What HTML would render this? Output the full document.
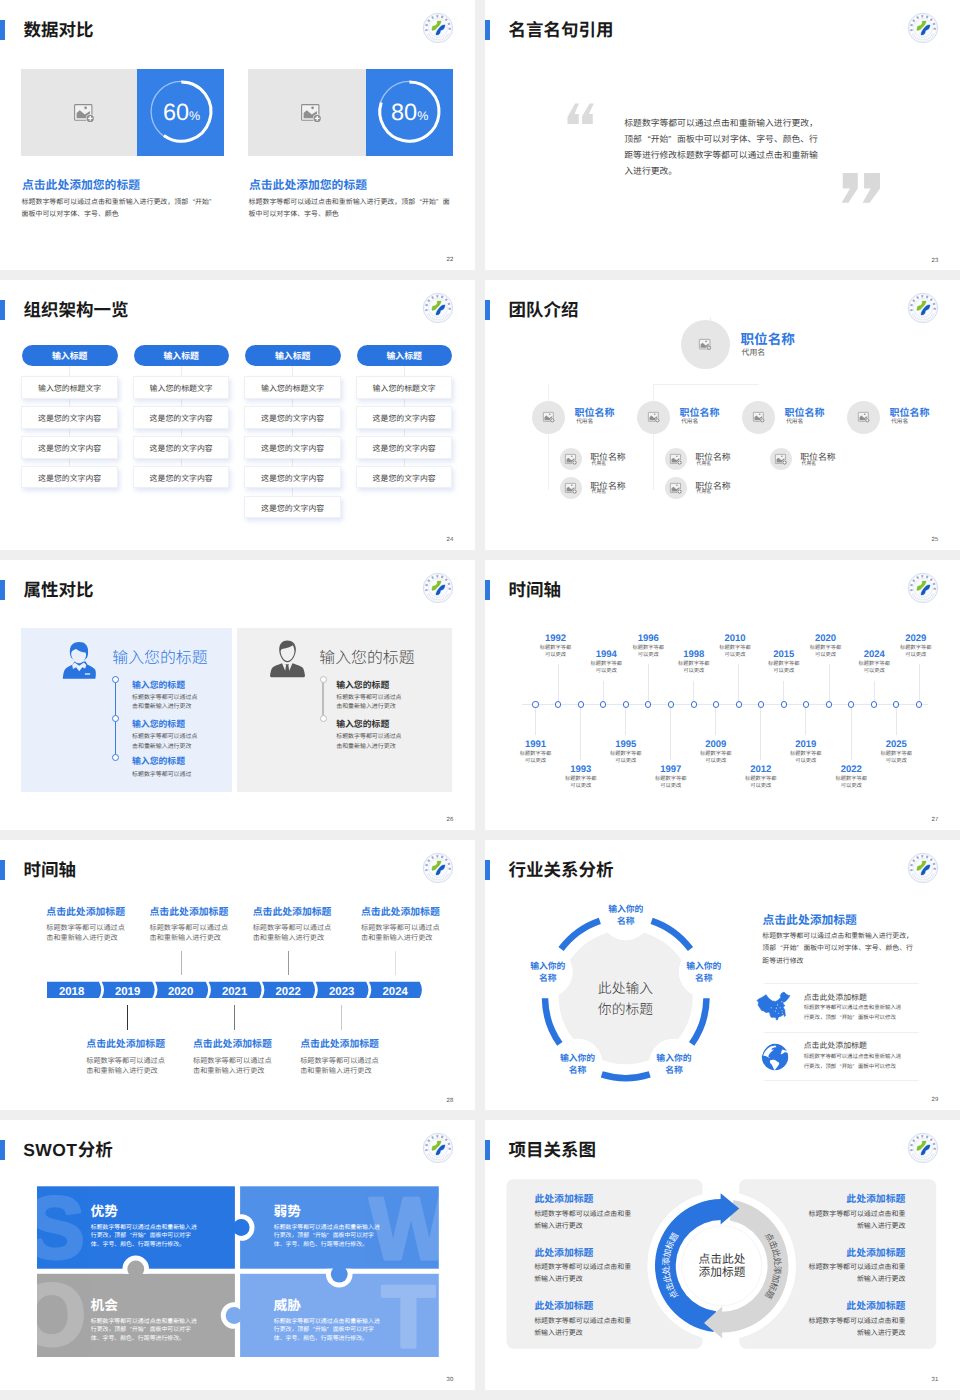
<!DOCTYPE html>
<html lang="zh-CN"><head><meta charset="utf-8"><title>slides</title>
<style>
html,body{margin:0;padding:0}
body{width:960px;height:1400px;background:#efefef;position:relative;overflow:hidden;font-family:"Liberation Sans","Noto Sans CJK SC",sans-serif;text-rendering:geometricPrecision}
.r{position:absolute;display:block}
.t{position:absolute;white-space:nowrap;margin:0;padding:0}
.q{display:inline-block;width:1em;font-style:normal}.ql{text-align:right}.qr{text-align:left}
.s{position:absolute;width:475px;height:270px;background:#fff}
svg{overflow:visible}
</style></head><body>

<div class="s" style="left:0px;top:0px"></div>
<div class="r" style="left:0px;top:20px;width:4.5px;height:20px;background:#2f78e0;"></div>
<div class="t" style="left:23.50px;top:18.20px;font-size:17.5px;line-height:24px;color:#1a1a1a;font-weight:700;">数据对比</div>
<svg class="r" style="left:422.3px;top:12px" width="32" height="32" viewBox="-16 -16 32 32">
<circle r="14.7" fill="#fff" stroke="#c3cbe8" stroke-width="0.7"/>
<circle r="13.6" fill="none" stroke="#e0e5f4" stroke-width="0.5"/>
<circle r="9.5" fill="#f8fcff" stroke="#d6dcf0" stroke-width="0.6"/>
<path d="M-11.3 3 A11.7 11.7 0 1 1 11.3 3" fill="none" stroke="#5f74b4" stroke-width="2.3" stroke-dasharray="2 2.9" opacity=".62"/>
<path d="M-10.3 5.6 A11.7 11.7 0 0 0 10.3 5.6" fill="none" stroke="#8a98c8" stroke-width="1.6" stroke-dasharray="0.9 1.1" opacity=".4"/>
<path d="M-0.7 -7 L3.2 -6.9 L2.6 -4.7 L1.3 -2.4 L-1.2 -0.2 L-2.8 1.7 L-5.7 2.6 L-6.2 1.25 L-5.4 -1.7 L-2.6 -2.6 L-1 -4.1 Z" fill="#86bf2b" stroke="#86bf2b" stroke-width=".4" stroke-linejoin="round"/>
<path d="M7 -3.1 L6.7 -0.9 L5.4 1.3 L2.6 2.6 L2 5 L0.6 6.7 L-2 7 L-1.8 5 L-0.7 2.5 L1.2 0.1 L3.1 -1.9 L5 -2.9 Z" fill="#1559c2" stroke="#1559c2" stroke-width=".4" stroke-linejoin="round"/>
</svg>
<div class="t" style="left:453.30px;top:255.50px;font-size:6px;line-height:8px;color:#555;font-weight:400;transform:translateX(-100%);text-align:right;">22</div>
<div class="s" style="left:485px;top:0px"></div>
<div class="r" style="left:485px;top:20px;width:4.5px;height:20px;background:#2f78e0;"></div>
<div class="t" style="left:508.50px;top:18.20px;font-size:17.5px;line-height:24px;color:#1a1a1a;font-weight:700;">名言名句引用</div>
<svg class="r" style="left:907.3px;top:12px" width="32" height="32" viewBox="-16 -16 32 32">
<circle r="14.7" fill="#fff" stroke="#c3cbe8" stroke-width="0.7"/>
<circle r="13.6" fill="none" stroke="#e0e5f4" stroke-width="0.5"/>
<circle r="9.5" fill="#f8fcff" stroke="#d6dcf0" stroke-width="0.6"/>
<path d="M-11.3 3 A11.7 11.7 0 1 1 11.3 3" fill="none" stroke="#5f74b4" stroke-width="2.3" stroke-dasharray="2 2.9" opacity=".62"/>
<path d="M-10.3 5.6 A11.7 11.7 0 0 0 10.3 5.6" fill="none" stroke="#8a98c8" stroke-width="1.6" stroke-dasharray="0.9 1.1" opacity=".4"/>
<path d="M-0.7 -7 L3.2 -6.9 L2.6 -4.7 L1.3 -2.4 L-1.2 -0.2 L-2.8 1.7 L-5.7 2.6 L-6.2 1.25 L-5.4 -1.7 L-2.6 -2.6 L-1 -4.1 Z" fill="#86bf2b" stroke="#86bf2b" stroke-width=".4" stroke-linejoin="round"/>
<path d="M7 -3.1 L6.7 -0.9 L5.4 1.3 L2.6 2.6 L2 5 L0.6 6.7 L-2 7 L-1.8 5 L-0.7 2.5 L1.2 0.1 L3.1 -1.9 L5 -2.9 Z" fill="#1559c2" stroke="#1559c2" stroke-width=".4" stroke-linejoin="round"/>
</svg>
<div class="t" style="left:938.30px;top:256.50px;font-size:6px;line-height:8px;color:#555;font-weight:400;transform:translateX(-100%);text-align:right;">23</div>
<div class="s" style="left:0px;top:280px"></div>
<div class="r" style="left:0px;top:300px;width:4.5px;height:20px;background:#2f78e0;"></div>
<div class="t" style="left:23.50px;top:298.20px;font-size:17.5px;line-height:24px;color:#1a1a1a;font-weight:700;">组织架构一览</div>
<svg class="r" style="left:422.3px;top:292px" width="32" height="32" viewBox="-16 -16 32 32">
<circle r="14.7" fill="#fff" stroke="#c3cbe8" stroke-width="0.7"/>
<circle r="13.6" fill="none" stroke="#e0e5f4" stroke-width="0.5"/>
<circle r="9.5" fill="#f8fcff" stroke="#d6dcf0" stroke-width="0.6"/>
<path d="M-11.3 3 A11.7 11.7 0 1 1 11.3 3" fill="none" stroke="#5f74b4" stroke-width="2.3" stroke-dasharray="2 2.9" opacity=".62"/>
<path d="M-10.3 5.6 A11.7 11.7 0 0 0 10.3 5.6" fill="none" stroke="#8a98c8" stroke-width="1.6" stroke-dasharray="0.9 1.1" opacity=".4"/>
<path d="M-0.7 -7 L3.2 -6.9 L2.6 -4.7 L1.3 -2.4 L-1.2 -0.2 L-2.8 1.7 L-5.7 2.6 L-6.2 1.25 L-5.4 -1.7 L-2.6 -2.6 L-1 -4.1 Z" fill="#86bf2b" stroke="#86bf2b" stroke-width=".4" stroke-linejoin="round"/>
<path d="M7 -3.1 L6.7 -0.9 L5.4 1.3 L2.6 2.6 L2 5 L0.6 6.7 L-2 7 L-1.8 5 L-0.7 2.5 L1.2 0.1 L3.1 -1.9 L5 -2.9 Z" fill="#1559c2" stroke="#1559c2" stroke-width=".4" stroke-linejoin="round"/>
</svg>
<div class="t" style="left:453.30px;top:535.50px;font-size:6px;line-height:8px;color:#555;font-weight:400;transform:translateX(-100%);text-align:right;">24</div>
<div class="s" style="left:485px;top:280px"></div>
<div class="r" style="left:485px;top:300px;width:4.5px;height:20px;background:#2f78e0;"></div>
<div class="t" style="left:508.50px;top:298.20px;font-size:17.5px;line-height:24px;color:#1a1a1a;font-weight:700;">团队介绍</div>
<svg class="r" style="left:907.3px;top:292px" width="32" height="32" viewBox="-16 -16 32 32">
<circle r="14.7" fill="#fff" stroke="#c3cbe8" stroke-width="0.7"/>
<circle r="13.6" fill="none" stroke="#e0e5f4" stroke-width="0.5"/>
<circle r="9.5" fill="#f8fcff" stroke="#d6dcf0" stroke-width="0.6"/>
<path d="M-11.3 3 A11.7 11.7 0 1 1 11.3 3" fill="none" stroke="#5f74b4" stroke-width="2.3" stroke-dasharray="2 2.9" opacity=".62"/>
<path d="M-10.3 5.6 A11.7 11.7 0 0 0 10.3 5.6" fill="none" stroke="#8a98c8" stroke-width="1.6" stroke-dasharray="0.9 1.1" opacity=".4"/>
<path d="M-0.7 -7 L3.2 -6.9 L2.6 -4.7 L1.3 -2.4 L-1.2 -0.2 L-2.8 1.7 L-5.7 2.6 L-6.2 1.25 L-5.4 -1.7 L-2.6 -2.6 L-1 -4.1 Z" fill="#86bf2b" stroke="#86bf2b" stroke-width=".4" stroke-linejoin="round"/>
<path d="M7 -3.1 L6.7 -0.9 L5.4 1.3 L2.6 2.6 L2 5 L0.6 6.7 L-2 7 L-1.8 5 L-0.7 2.5 L1.2 0.1 L3.1 -1.9 L5 -2.9 Z" fill="#1559c2" stroke="#1559c2" stroke-width=".4" stroke-linejoin="round"/>
</svg>
<div class="t" style="left:938.30px;top:535.50px;font-size:6px;line-height:8px;color:#555;font-weight:400;transform:translateX(-100%);text-align:right;">25</div>
<div class="s" style="left:0px;top:560px"></div>
<div class="r" style="left:0px;top:580px;width:4.5px;height:20px;background:#2f78e0;"></div>
<div class="t" style="left:23.50px;top:578.20px;font-size:17.5px;line-height:24px;color:#1a1a1a;font-weight:700;">属性对比</div>
<svg class="r" style="left:422.3px;top:572px" width="32" height="32" viewBox="-16 -16 32 32">
<circle r="14.7" fill="#fff" stroke="#c3cbe8" stroke-width="0.7"/>
<circle r="13.6" fill="none" stroke="#e0e5f4" stroke-width="0.5"/>
<circle r="9.5" fill="#f8fcff" stroke="#d6dcf0" stroke-width="0.6"/>
<path d="M-11.3 3 A11.7 11.7 0 1 1 11.3 3" fill="none" stroke="#5f74b4" stroke-width="2.3" stroke-dasharray="2 2.9" opacity=".62"/>
<path d="M-10.3 5.6 A11.7 11.7 0 0 0 10.3 5.6" fill="none" stroke="#8a98c8" stroke-width="1.6" stroke-dasharray="0.9 1.1" opacity=".4"/>
<path d="M-0.7 -7 L3.2 -6.9 L2.6 -4.7 L1.3 -2.4 L-1.2 -0.2 L-2.8 1.7 L-5.7 2.6 L-6.2 1.25 L-5.4 -1.7 L-2.6 -2.6 L-1 -4.1 Z" fill="#86bf2b" stroke="#86bf2b" stroke-width=".4" stroke-linejoin="round"/>
<path d="M7 -3.1 L6.7 -0.9 L5.4 1.3 L2.6 2.6 L2 5 L0.6 6.7 L-2 7 L-1.8 5 L-0.7 2.5 L1.2 0.1 L3.1 -1.9 L5 -2.9 Z" fill="#1559c2" stroke="#1559c2" stroke-width=".4" stroke-linejoin="round"/>
</svg>
<div class="t" style="left:453.30px;top:815.50px;font-size:6px;line-height:8px;color:#555;font-weight:400;transform:translateX(-100%);text-align:right;">26</div>
<div class="s" style="left:485px;top:560px"></div>
<div class="r" style="left:485px;top:580px;width:4.5px;height:20px;background:#2f78e0;"></div>
<div class="t" style="left:508.50px;top:578.20px;font-size:17.5px;line-height:24px;color:#1a1a1a;font-weight:700;">时间轴</div>
<svg class="r" style="left:907.3px;top:572px" width="32" height="32" viewBox="-16 -16 32 32">
<circle r="14.7" fill="#fff" stroke="#c3cbe8" stroke-width="0.7"/>
<circle r="13.6" fill="none" stroke="#e0e5f4" stroke-width="0.5"/>
<circle r="9.5" fill="#f8fcff" stroke="#d6dcf0" stroke-width="0.6"/>
<path d="M-11.3 3 A11.7 11.7 0 1 1 11.3 3" fill="none" stroke="#5f74b4" stroke-width="2.3" stroke-dasharray="2 2.9" opacity=".62"/>
<path d="M-10.3 5.6 A11.7 11.7 0 0 0 10.3 5.6" fill="none" stroke="#8a98c8" stroke-width="1.6" stroke-dasharray="0.9 1.1" opacity=".4"/>
<path d="M-0.7 -7 L3.2 -6.9 L2.6 -4.7 L1.3 -2.4 L-1.2 -0.2 L-2.8 1.7 L-5.7 2.6 L-6.2 1.25 L-5.4 -1.7 L-2.6 -2.6 L-1 -4.1 Z" fill="#86bf2b" stroke="#86bf2b" stroke-width=".4" stroke-linejoin="round"/>
<path d="M7 -3.1 L6.7 -0.9 L5.4 1.3 L2.6 2.6 L2 5 L0.6 6.7 L-2 7 L-1.8 5 L-0.7 2.5 L1.2 0.1 L3.1 -1.9 L5 -2.9 Z" fill="#1559c2" stroke="#1559c2" stroke-width=".4" stroke-linejoin="round"/>
</svg>
<div class="t" style="left:938.30px;top:815.50px;font-size:6px;line-height:8px;color:#555;font-weight:400;transform:translateX(-100%);text-align:right;">27</div>
<div class="s" style="left:0px;top:840px"></div>
<div class="r" style="left:0px;top:860px;width:4.5px;height:20px;background:#2f78e0;"></div>
<div class="t" style="left:23.50px;top:858.20px;font-size:17.5px;line-height:24px;color:#1a1a1a;font-weight:700;">时间轴</div>
<svg class="r" style="left:422.3px;top:852px" width="32" height="32" viewBox="-16 -16 32 32">
<circle r="14.7" fill="#fff" stroke="#c3cbe8" stroke-width="0.7"/>
<circle r="13.6" fill="none" stroke="#e0e5f4" stroke-width="0.5"/>
<circle r="9.5" fill="#f8fcff" stroke="#d6dcf0" stroke-width="0.6"/>
<path d="M-11.3 3 A11.7 11.7 0 1 1 11.3 3" fill="none" stroke="#5f74b4" stroke-width="2.3" stroke-dasharray="2 2.9" opacity=".62"/>
<path d="M-10.3 5.6 A11.7 11.7 0 0 0 10.3 5.6" fill="none" stroke="#8a98c8" stroke-width="1.6" stroke-dasharray="0.9 1.1" opacity=".4"/>
<path d="M-0.7 -7 L3.2 -6.9 L2.6 -4.7 L1.3 -2.4 L-1.2 -0.2 L-2.8 1.7 L-5.7 2.6 L-6.2 1.25 L-5.4 -1.7 L-2.6 -2.6 L-1 -4.1 Z" fill="#86bf2b" stroke="#86bf2b" stroke-width=".4" stroke-linejoin="round"/>
<path d="M7 -3.1 L6.7 -0.9 L5.4 1.3 L2.6 2.6 L2 5 L0.6 6.7 L-2 7 L-1.8 5 L-0.7 2.5 L1.2 0.1 L3.1 -1.9 L5 -2.9 Z" fill="#1559c2" stroke="#1559c2" stroke-width=".4" stroke-linejoin="round"/>
</svg>
<div class="t" style="left:453.30px;top:1096.50px;font-size:6px;line-height:8px;color:#555;font-weight:400;transform:translateX(-100%);text-align:right;">28</div>
<div class="s" style="left:485px;top:840px"></div>
<div class="r" style="left:485px;top:860px;width:4.5px;height:20px;background:#2f78e0;"></div>
<div class="t" style="left:508.50px;top:858.20px;font-size:17.5px;line-height:24px;color:#1a1a1a;font-weight:700;">行业关系分析</div>
<svg class="r" style="left:907.3px;top:852px" width="32" height="32" viewBox="-16 -16 32 32">
<circle r="14.7" fill="#fff" stroke="#c3cbe8" stroke-width="0.7"/>
<circle r="13.6" fill="none" stroke="#e0e5f4" stroke-width="0.5"/>
<circle r="9.5" fill="#f8fcff" stroke="#d6dcf0" stroke-width="0.6"/>
<path d="M-11.3 3 A11.7 11.7 0 1 1 11.3 3" fill="none" stroke="#5f74b4" stroke-width="2.3" stroke-dasharray="2 2.9" opacity=".62"/>
<path d="M-10.3 5.6 A11.7 11.7 0 0 0 10.3 5.6" fill="none" stroke="#8a98c8" stroke-width="1.6" stroke-dasharray="0.9 1.1" opacity=".4"/>
<path d="M-0.7 -7 L3.2 -6.9 L2.6 -4.7 L1.3 -2.4 L-1.2 -0.2 L-2.8 1.7 L-5.7 2.6 L-6.2 1.25 L-5.4 -1.7 L-2.6 -2.6 L-1 -4.1 Z" fill="#86bf2b" stroke="#86bf2b" stroke-width=".4" stroke-linejoin="round"/>
<path d="M7 -3.1 L6.7 -0.9 L5.4 1.3 L2.6 2.6 L2 5 L0.6 6.7 L-2 7 L-1.8 5 L-0.7 2.5 L1.2 0.1 L3.1 -1.9 L5 -2.9 Z" fill="#1559c2" stroke="#1559c2" stroke-width=".4" stroke-linejoin="round"/>
</svg>
<div class="t" style="left:938.30px;top:1095.50px;font-size:6px;line-height:8px;color:#555;font-weight:400;transform:translateX(-100%);text-align:right;">29</div>
<div class="s" style="left:0px;top:1120px"></div>
<div class="r" style="left:0px;top:1140px;width:4.5px;height:20px;background:#2f78e0;"></div>
<div class="t" style="left:23.30px;top:1138.00px;font-size:17.5px;line-height:24px;color:#1a1a1a;font-weight:700;letter-spacing:.35px;">SWOT</div>
<div class="t" style="left:77.80px;top:1138.20px;font-size:17.5px;line-height:24px;color:#1a1a1a;font-weight:700;">分析</div>
<svg class="r" style="left:422.3px;top:1132px" width="32" height="32" viewBox="-16 -16 32 32">
<circle r="14.7" fill="#fff" stroke="#c3cbe8" stroke-width="0.7"/>
<circle r="13.6" fill="none" stroke="#e0e5f4" stroke-width="0.5"/>
<circle r="9.5" fill="#f8fcff" stroke="#d6dcf0" stroke-width="0.6"/>
<path d="M-11.3 3 A11.7 11.7 0 1 1 11.3 3" fill="none" stroke="#5f74b4" stroke-width="2.3" stroke-dasharray="2 2.9" opacity=".62"/>
<path d="M-10.3 5.6 A11.7 11.7 0 0 0 10.3 5.6" fill="none" stroke="#8a98c8" stroke-width="1.6" stroke-dasharray="0.9 1.1" opacity=".4"/>
<path d="M-0.7 -7 L3.2 -6.9 L2.6 -4.7 L1.3 -2.4 L-1.2 -0.2 L-2.8 1.7 L-5.7 2.6 L-6.2 1.25 L-5.4 -1.7 L-2.6 -2.6 L-1 -4.1 Z" fill="#86bf2b" stroke="#86bf2b" stroke-width=".4" stroke-linejoin="round"/>
<path d="M7 -3.1 L6.7 -0.9 L5.4 1.3 L2.6 2.6 L2 5 L0.6 6.7 L-2 7 L-1.8 5 L-0.7 2.5 L1.2 0.1 L3.1 -1.9 L5 -2.9 Z" fill="#1559c2" stroke="#1559c2" stroke-width=".4" stroke-linejoin="round"/>
</svg>
<div class="t" style="left:453.30px;top:1375.50px;font-size:6px;line-height:8px;color:#555;font-weight:400;transform:translateX(-100%);text-align:right;">30</div>
<div class="s" style="left:485px;top:1120px"></div>
<div class="r" style="left:485px;top:1140px;width:4.5px;height:20px;background:#2f78e0;"></div>
<div class="t" style="left:508.50px;top:1138.20px;font-size:17.5px;line-height:24px;color:#1a1a1a;font-weight:700;">项目关系图</div>
<svg class="r" style="left:907.3px;top:1132px" width="32" height="32" viewBox="-16 -16 32 32">
<circle r="14.7" fill="#fff" stroke="#c3cbe8" stroke-width="0.7"/>
<circle r="13.6" fill="none" stroke="#e0e5f4" stroke-width="0.5"/>
<circle r="9.5" fill="#f8fcff" stroke="#d6dcf0" stroke-width="0.6"/>
<path d="M-11.3 3 A11.7 11.7 0 1 1 11.3 3" fill="none" stroke="#5f74b4" stroke-width="2.3" stroke-dasharray="2 2.9" opacity=".62"/>
<path d="M-10.3 5.6 A11.7 11.7 0 0 0 10.3 5.6" fill="none" stroke="#8a98c8" stroke-width="1.6" stroke-dasharray="0.9 1.1" opacity=".4"/>
<path d="M-0.7 -7 L3.2 -6.9 L2.6 -4.7 L1.3 -2.4 L-1.2 -0.2 L-2.8 1.7 L-5.7 2.6 L-6.2 1.25 L-5.4 -1.7 L-2.6 -2.6 L-1 -4.1 Z" fill="#86bf2b" stroke="#86bf2b" stroke-width=".4" stroke-linejoin="round"/>
<path d="M7 -3.1 L6.7 -0.9 L5.4 1.3 L2.6 2.6 L2 5 L0.6 6.7 L-2 7 L-1.8 5 L-0.7 2.5 L1.2 0.1 L3.1 -1.9 L5 -2.9 Z" fill="#1559c2" stroke="#1559c2" stroke-width=".4" stroke-linejoin="round"/>
</svg>
<div class="t" style="left:938.30px;top:1375.50px;font-size:6px;line-height:8px;color:#555;font-weight:400;transform:translateX(-100%);text-align:right;">31</div>
<div class="r" style="left:21px;top:69px;width:116px;height:87px;background:#e7e6e6;"></div>
<div class="r" style="left:137px;top:69px;width:87px;height:87px;background:#3580e6;"></div>
<svg class="r" style="left:73.5px;top:103.9px" width="22" height="20.0" viewBox="0 0 22 20">
<rect x="0.6" y="0.6" width="17.3" height="15.6" rx="0.8" fill="#f2f2f2" stroke="#8f8f8f" stroke-width="1.1"/>
<path d="M2.6 14.2 L2.6 9 L5.8 6.2 L10.8 10.6 L15.6 7.2 L15.9 7.2 L15.9 14.2 Z" fill="#8f8f8f"/>
<circle cx="11.6" cy="3.8" r="1.4" fill="#8f8f8f"/>
<circle cx="16.2" cy="14.4" r="4.3" fill="#e9e9e9"/>
<circle cx="16.2" cy="14.4" r="3.6" fill="#8f8f8f"/>
<path d="M16.2 12.1 V16.7 M13.9 14.4 H18.5" stroke="#fff" stroke-width="1.3"/>
</svg>
<svg class="r" style="left:0;top:0" width="960" height="1400"><circle cx="181.3" cy="111.6" r="30.200000000000003" fill="none" stroke="#9cc1f5" stroke-width="1.3"/><path d="M181.3 82.0 A29.6 29.6 0 1 1 163.90 135.55" fill="none" stroke="#fff" stroke-width="3"/></svg>
<div class="t" style="left:181.60px;top:97.80px;font-size:23.5px;line-height:28px;color:#fff;font-weight:400;transform:translateX(-50%);text-align:center;">60<span style="font-size:12.5px">%</span></div>
<div class="t" style="left:22.00px;top:177.80px;font-size:11.8px;line-height:14px;color:#2f78e0;font-weight:700;">点击此处添加您的标题</div>
<div class="t" style="left:21.60px;top:197.00px;font-size:6.95px;line-height:12px;color:#444;font-weight:400;">标题数字等都可以通过点击和重新输入进行更改，顶部<i class="q ql">“</i>开始<i class="q qr">”</i><br>面板中可以对字体、字号、颜色</div>
<div class="r" style="left:248px;top:69px;width:118px;height:87px;background:#e7e6e6;"></div>
<div class="r" style="left:366px;top:69px;width:87px;height:87px;background:#3580e6;"></div>
<svg class="r" style="left:300.5px;top:103.9px" width="22" height="20.0" viewBox="0 0 22 20">
<rect x="0.6" y="0.6" width="17.3" height="15.6" rx="0.8" fill="#f2f2f2" stroke="#8f8f8f" stroke-width="1.1"/>
<path d="M2.6 14.2 L2.6 9 L5.8 6.2 L10.8 10.6 L15.6 7.2 L15.9 7.2 L15.9 14.2 Z" fill="#8f8f8f"/>
<circle cx="11.6" cy="3.8" r="1.4" fill="#8f8f8f"/>
<circle cx="16.2" cy="14.4" r="4.3" fill="#e9e9e9"/>
<circle cx="16.2" cy="14.4" r="3.6" fill="#8f8f8f"/>
<path d="M16.2 12.1 V16.7 M13.9 14.4 H18.5" stroke="#fff" stroke-width="1.3"/>
</svg>
<svg class="r" style="left:0;top:0" width="960" height="1400"><circle cx="409.4" cy="111.6" r="30.200000000000003" fill="none" stroke="#9cc1f5" stroke-width="1.3"/><path d="M409.4 82.0 A29.6 29.6 0 1 1 381.25 102.45" fill="none" stroke="#fff" stroke-width="3"/></svg>
<div class="t" style="left:409.70px;top:97.80px;font-size:23.5px;line-height:28px;color:#fff;font-weight:400;transform:translateX(-50%);text-align:center;">80<span style="font-size:12.5px">%</span></div>
<div class="t" style="left:249.00px;top:177.80px;font-size:11.8px;line-height:14px;color:#2f78e0;font-weight:700;">点击此处添加您的标题</div>
<div class="t" style="left:248.60px;top:197.00px;font-size:6.95px;line-height:12px;color:#444;font-weight:400;">标题数字等都可以通过点击和重新输入进行更改，顶部<i class="q ql">“</i>开始<i class="q qr">”</i>面<br>板中可以对字体、字号、颜色</div>
<svg class="r" style="left:0;top:0" width="960" height="1400"><polygon points="567.5,123.9 567.5,116.9 575,103.6 579,103.6 574.5,114 578.7,114 578.7,123.9" fill="#dbdbdb"/><polygon points="582.1,123.9 582.1,116.3 589.6,103.6 593.8,103.6 588.9,114 592.8,114 592.8,123.9" fill="#dbdbdb"/><polygon points="842.8,173.1 857.8,173.1 857.8,188.4 848.4,202.8 841.6,202.8 850,188.4 842.8,188.4" fill="#d9d9d9"/><polygon points="864.1,173.1 880,173.1 880,188.4 869.7,202.8 862.5,202.8 870.6,188.4 864.1,188.4" fill="#d9d9d9"/></svg>
<div class="t" style="left:624.30px;top:114.70px;font-size:8.8px;line-height:16.2px;color:#444;font-weight:400;">标题数字等都可以通过点击和重新输入进行更改，<br>顶部<i class="q ql">“</i>开始<i class="q qr">”</i>面板中可以对字体、字号、颜色、行<br>距等进行修改标题数字等都可以通过点击和重新输<br>入进行更改。</div>
<div class="r" style="left:69.4px;top:366px;width:0.7px;height:100.05000000000001px;background:#ececf0;"></div>
<div class="r" style="left:22.00px;top:345px;width:95.5px;height:21px;border-radius:10.5px;background:#2a74e0"></div>
<div class="t" style="left:69.70px;top:350.20px;font-size:8.9px;line-height:12px;color:#fff;font-weight:700;transform:translateX(-50%);text-align:center;">输入标题</div>
<div class="r" style="left:21.20px;top:376.30px;width:96.5px;height:22.5px;background:#fff;border:0.5px solid #f0f0f4;box-sizing:border-box;box-shadow:2px 3px 4.5px rgba(80,110,210,.17)"></div>
<div class="t" style="left:69.70px;top:383.10px;font-size:7.9px;line-height:11px;color:#444;font-weight:400;transform:translateX(-50%);text-align:center;">输入您的标题文字</div>
<div class="r" style="left:21.20px;top:406.15px;width:96.5px;height:22.5px;background:#fff;border:0.5px solid #f0f0f4;box-sizing:border-box;box-shadow:2px 3px 4.5px rgba(80,110,210,.17)"></div>
<div class="t" style="left:69.70px;top:412.95px;font-size:7.9px;line-height:11px;color:#444;font-weight:400;transform:translateX(-50%);text-align:center;">这是您的文字内容</div>
<div class="r" style="left:21.20px;top:436.00px;width:96.5px;height:22.5px;background:#fff;border:0.5px solid #f0f0f4;box-sizing:border-box;box-shadow:2px 3px 4.5px rgba(80,110,210,.17)"></div>
<div class="t" style="left:69.70px;top:442.80px;font-size:7.9px;line-height:11px;color:#444;font-weight:400;transform:translateX(-50%);text-align:center;">这是您的文字内容</div>
<div class="r" style="left:21.20px;top:465.85px;width:96.5px;height:22.5px;background:#fff;border:0.5px solid #f0f0f4;box-sizing:border-box;box-shadow:2px 3px 4.5px rgba(80,110,210,.17)"></div>
<div class="t" style="left:69.70px;top:472.65px;font-size:7.9px;line-height:11px;color:#444;font-weight:400;transform:translateX(-50%);text-align:center;">这是您的文字内容</div>
<div class="r" style="left:180.9px;top:366px;width:0.7px;height:100.05000000000001px;background:#ececf0;"></div>
<div class="r" style="left:133.50px;top:345px;width:95.5px;height:21px;border-radius:10.5px;background:#2a74e0"></div>
<div class="t" style="left:181.20px;top:350.20px;font-size:8.9px;line-height:12px;color:#fff;font-weight:700;transform:translateX(-50%);text-align:center;">输入标题</div>
<div class="r" style="left:132.70px;top:376.30px;width:96.5px;height:22.5px;background:#fff;border:0.5px solid #f0f0f4;box-sizing:border-box;box-shadow:2px 3px 4.5px rgba(80,110,210,.17)"></div>
<div class="t" style="left:181.20px;top:383.10px;font-size:7.9px;line-height:11px;color:#444;font-weight:400;transform:translateX(-50%);text-align:center;">输入您的标题文字</div>
<div class="r" style="left:132.70px;top:406.15px;width:96.5px;height:22.5px;background:#fff;border:0.5px solid #f0f0f4;box-sizing:border-box;box-shadow:2px 3px 4.5px rgba(80,110,210,.17)"></div>
<div class="t" style="left:181.20px;top:412.95px;font-size:7.9px;line-height:11px;color:#444;font-weight:400;transform:translateX(-50%);text-align:center;">这是您的文字内容</div>
<div class="r" style="left:132.70px;top:436.00px;width:96.5px;height:22.5px;background:#fff;border:0.5px solid #f0f0f4;box-sizing:border-box;box-shadow:2px 3px 4.5px rgba(80,110,210,.17)"></div>
<div class="t" style="left:181.20px;top:442.80px;font-size:7.9px;line-height:11px;color:#444;font-weight:400;transform:translateX(-50%);text-align:center;">这是您的文字内容</div>
<div class="r" style="left:132.70px;top:465.85px;width:96.5px;height:22.5px;background:#fff;border:0.5px solid #f0f0f4;box-sizing:border-box;box-shadow:2px 3px 4.5px rgba(80,110,210,.17)"></div>
<div class="t" style="left:181.20px;top:472.65px;font-size:7.9px;line-height:11px;color:#444;font-weight:400;transform:translateX(-50%);text-align:center;">这是您的文字内容</div>
<div class="r" style="left:292.4px;top:366px;width:0.7px;height:129.9px;background:#ececf0;"></div>
<div class="r" style="left:245.00px;top:345px;width:95.5px;height:21px;border-radius:10.5px;background:#2a74e0"></div>
<div class="t" style="left:292.70px;top:350.20px;font-size:8.9px;line-height:12px;color:#fff;font-weight:700;transform:translateX(-50%);text-align:center;">输入标题</div>
<div class="r" style="left:244.20px;top:376.30px;width:96.5px;height:22.5px;background:#fff;border:0.5px solid #f0f0f4;box-sizing:border-box;box-shadow:2px 3px 4.5px rgba(80,110,210,.17)"></div>
<div class="t" style="left:292.70px;top:383.10px;font-size:7.9px;line-height:11px;color:#444;font-weight:400;transform:translateX(-50%);text-align:center;">输入您的标题文字</div>
<div class="r" style="left:244.20px;top:406.15px;width:96.5px;height:22.5px;background:#fff;border:0.5px solid #f0f0f4;box-sizing:border-box;box-shadow:2px 3px 4.5px rgba(80,110,210,.17)"></div>
<div class="t" style="left:292.70px;top:412.95px;font-size:7.9px;line-height:11px;color:#444;font-weight:400;transform:translateX(-50%);text-align:center;">这是您的文字内容</div>
<div class="r" style="left:244.20px;top:436.00px;width:96.5px;height:22.5px;background:#fff;border:0.5px solid #f0f0f4;box-sizing:border-box;box-shadow:2px 3px 4.5px rgba(80,110,210,.17)"></div>
<div class="t" style="left:292.70px;top:442.80px;font-size:7.9px;line-height:11px;color:#444;font-weight:400;transform:translateX(-50%);text-align:center;">这是您的文字内容</div>
<div class="r" style="left:244.20px;top:465.85px;width:96.5px;height:22.5px;background:#fff;border:0.5px solid #f0f0f4;box-sizing:border-box;box-shadow:2px 3px 4.5px rgba(80,110,210,.17)"></div>
<div class="t" style="left:292.70px;top:472.65px;font-size:7.9px;line-height:11px;color:#444;font-weight:400;transform:translateX(-50%);text-align:center;">这是您的文字内容</div>
<div class="r" style="left:244.20px;top:495.70px;width:96.5px;height:22.5px;background:#fff;border:0.5px solid #f0f0f4;box-sizing:border-box;box-shadow:2px 3px 4.5px rgba(80,110,210,.17)"></div>
<div class="t" style="left:292.70px;top:502.50px;font-size:7.9px;line-height:11px;color:#444;font-weight:400;transform:translateX(-50%);text-align:center;">这是您的文字内容</div>
<div class="r" style="left:403.9px;top:366px;width:0.7px;height:100.05000000000001px;background:#ececf0;"></div>
<div class="r" style="left:356.50px;top:345px;width:95.5px;height:21px;border-radius:10.5px;background:#2a74e0"></div>
<div class="t" style="left:404.20px;top:350.20px;font-size:8.9px;line-height:12px;color:#fff;font-weight:700;transform:translateX(-50%);text-align:center;">输入标题</div>
<div class="r" style="left:355.70px;top:376.30px;width:96.5px;height:22.5px;background:#fff;border:0.5px solid #f0f0f4;box-sizing:border-box;box-shadow:2px 3px 4.5px rgba(80,110,210,.17)"></div>
<div class="t" style="left:404.20px;top:383.10px;font-size:7.9px;line-height:11px;color:#444;font-weight:400;transform:translateX(-50%);text-align:center;">输入您的标题文字</div>
<div class="r" style="left:355.70px;top:406.15px;width:96.5px;height:22.5px;background:#fff;border:0.5px solid #f0f0f4;box-sizing:border-box;box-shadow:2px 3px 4.5px rgba(80,110,210,.17)"></div>
<div class="t" style="left:404.20px;top:412.95px;font-size:7.9px;line-height:11px;color:#444;font-weight:400;transform:translateX(-50%);text-align:center;">这是您的文字内容</div>
<div class="r" style="left:355.70px;top:436.00px;width:96.5px;height:22.5px;background:#fff;border:0.5px solid #f0f0f4;box-sizing:border-box;box-shadow:2px 3px 4.5px rgba(80,110,210,.17)"></div>
<div class="t" style="left:404.20px;top:442.80px;font-size:7.9px;line-height:11px;color:#444;font-weight:400;transform:translateX(-50%);text-align:center;">这是您的文字内容</div>
<div class="r" style="left:355.70px;top:465.85px;width:96.5px;height:22.5px;background:#fff;border:0.5px solid #f0f0f4;box-sizing:border-box;box-shadow:2px 3px 4.5px rgba(80,110,210,.17)"></div>
<div class="t" style="left:404.20px;top:472.65px;font-size:7.9px;line-height:11px;color:#444;font-weight:400;transform:translateX(-50%);text-align:center;">这是您的文字内容</div>
<div class="r" style="left:710px;top:317px;width:0.7px;height:4px;background:#f0f0f0;"></div>
<div class="r" style="left:548.4px;top:384px;width:0.7px;height:106px;background:#f0f0f0;"></div>
<div class="r" style="left:653.2px;top:384px;width:106px;height:0.7px;background:#f0f0f0;"></div>
<div class="r" style="left:653.2px;top:384px;width:0.7px;height:106px;background:#f0f0f0;"></div>
<div class="r" style="left:681.20px;top:320.00px;width:48.8px;height:48.8px;border-radius:50%;background:#e6e6e6"></div>
<svg class="r" style="left:699.49px;top:339.45px" width="13.5" height="12.27" viewBox="0 0 22 20">
<rect x="0.6" y="0.6" width="17.3" height="15.6" rx="0.8" fill="#f2f2f2" stroke="#8f8f8f" stroke-width="1.1"/>
<path d="M2.6 14.2 L2.6 9 L5.8 6.2 L10.8 10.6 L15.6 7.2 L15.9 7.2 L15.9 14.2 Z" fill="#8f8f8f"/>
<circle cx="11.6" cy="3.8" r="1.4" fill="#8f8f8f"/>
<circle cx="16.2" cy="14.4" r="4.3" fill="#e9e9e9"/>
<circle cx="16.2" cy="14.4" r="3.6" fill="#8f8f8f"/>
<path d="M16.2 12.1 V16.7 M13.9 14.4 H18.5" stroke="#fff" stroke-width="1.3"/>
</svg>
<div class="t" style="left:740.50px;top:331.30px;font-size:13.6px;line-height:18px;color:#2f78e0;font-weight:700;">职位名称</div>
<div class="t" style="left:741.50px;top:348.20px;font-size:7.9px;line-height:10px;color:#555;font-weight:400;">代用名</div>
<div class="r" style="left:532.00px;top:400.50px;width:33.0px;height:33.0px;border-radius:50%;background:#e6e6e6"></div>
<svg class="r" style="left:542.83px;top:412.45px" width="12.7" height="11.55" viewBox="0 0 22 20">
<rect x="0.6" y="0.6" width="17.3" height="15.6" rx="0.8" fill="#f2f2f2" stroke="#8f8f8f" stroke-width="1.1"/>
<path d="M2.6 14.2 L2.6 9 L5.8 6.2 L10.8 10.6 L15.6 7.2 L15.9 7.2 L15.9 14.2 Z" fill="#8f8f8f"/>
<circle cx="11.6" cy="3.8" r="1.4" fill="#8f8f8f"/>
<circle cx="16.2" cy="14.4" r="4.3" fill="#e9e9e9"/>
<circle cx="16.2" cy="14.4" r="3.6" fill="#8f8f8f"/>
<path d="M16.2 12.1 V16.7 M13.9 14.4 H18.5" stroke="#fff" stroke-width="1.3"/>
</svg>
<div class="t" style="left:574.50px;top:406.50px;font-size:10px;line-height:13px;color:#2f78e0;font-weight:700;">职位名称</div>
<div class="t" style="left:576.20px;top:419.10px;font-size:5.7px;line-height:7px;color:#555;font-weight:400;">代用名</div>
<div class="r" style="left:637.00px;top:400.50px;width:33.0px;height:33.0px;border-radius:50%;background:#e6e6e6"></div>
<svg class="r" style="left:647.83px;top:412.45px" width="12.7" height="11.55" viewBox="0 0 22 20">
<rect x="0.6" y="0.6" width="17.3" height="15.6" rx="0.8" fill="#f2f2f2" stroke="#8f8f8f" stroke-width="1.1"/>
<path d="M2.6 14.2 L2.6 9 L5.8 6.2 L10.8 10.6 L15.6 7.2 L15.9 7.2 L15.9 14.2 Z" fill="#8f8f8f"/>
<circle cx="11.6" cy="3.8" r="1.4" fill="#8f8f8f"/>
<circle cx="16.2" cy="14.4" r="4.3" fill="#e9e9e9"/>
<circle cx="16.2" cy="14.4" r="3.6" fill="#8f8f8f"/>
<path d="M16.2 12.1 V16.7 M13.9 14.4 H18.5" stroke="#fff" stroke-width="1.3"/>
</svg>
<div class="t" style="left:679.50px;top:406.50px;font-size:10px;line-height:13px;color:#2f78e0;font-weight:700;">职位名称</div>
<div class="t" style="left:681.20px;top:419.10px;font-size:5.7px;line-height:7px;color:#555;font-weight:400;">代用名</div>
<div class="r" style="left:742.00px;top:400.50px;width:33.0px;height:33.0px;border-radius:50%;background:#e6e6e6"></div>
<svg class="r" style="left:752.83px;top:412.45px" width="12.7" height="11.55" viewBox="0 0 22 20">
<rect x="0.6" y="0.6" width="17.3" height="15.6" rx="0.8" fill="#f2f2f2" stroke="#8f8f8f" stroke-width="1.1"/>
<path d="M2.6 14.2 L2.6 9 L5.8 6.2 L10.8 10.6 L15.6 7.2 L15.9 7.2 L15.9 14.2 Z" fill="#8f8f8f"/>
<circle cx="11.6" cy="3.8" r="1.4" fill="#8f8f8f"/>
<circle cx="16.2" cy="14.4" r="4.3" fill="#e9e9e9"/>
<circle cx="16.2" cy="14.4" r="3.6" fill="#8f8f8f"/>
<path d="M16.2 12.1 V16.7 M13.9 14.4 H18.5" stroke="#fff" stroke-width="1.3"/>
</svg>
<div class="t" style="left:784.50px;top:406.50px;font-size:10px;line-height:13px;color:#2f78e0;font-weight:700;">职位名称</div>
<div class="t" style="left:786.20px;top:419.10px;font-size:5.7px;line-height:7px;color:#555;font-weight:400;">代用名</div>
<div class="r" style="left:847.00px;top:400.50px;width:33.0px;height:33.0px;border-radius:50%;background:#e6e6e6"></div>
<svg class="r" style="left:857.83px;top:412.45px" width="12.7" height="11.55" viewBox="0 0 22 20">
<rect x="0.6" y="0.6" width="17.3" height="15.6" rx="0.8" fill="#f2f2f2" stroke="#8f8f8f" stroke-width="1.1"/>
<path d="M2.6 14.2 L2.6 9 L5.8 6.2 L10.8 10.6 L15.6 7.2 L15.9 7.2 L15.9 14.2 Z" fill="#8f8f8f"/>
<circle cx="11.6" cy="3.8" r="1.4" fill="#8f8f8f"/>
<circle cx="16.2" cy="14.4" r="4.3" fill="#e9e9e9"/>
<circle cx="16.2" cy="14.4" r="3.6" fill="#8f8f8f"/>
<path d="M16.2 12.1 V16.7 M13.9 14.4 H18.5" stroke="#fff" stroke-width="1.3"/>
</svg>
<div class="t" style="left:889.50px;top:406.50px;font-size:10px;line-height:13px;color:#2f78e0;font-weight:700;">职位名称</div>
<div class="t" style="left:891.20px;top:419.10px;font-size:5.7px;line-height:7px;color:#555;font-weight:400;">代用名</div>
<div class="r" style="left:560.00px;top:447.75px;width:22px;height:22px;border-radius:50%;background:#e6e6e6"></div>
<svg class="r" style="left:565.3px;top:454.09px" width="13" height="11.82" viewBox="0 0 22 20">
<rect x="0.6" y="0.6" width="17.3" height="15.6" rx="0.8" fill="#f2f2f2" stroke="#8f8f8f" stroke-width="1.1"/>
<path d="M2.6 14.2 L2.6 9 L5.8 6.2 L10.8 10.6 L15.6 7.2 L15.9 7.2 L15.9 14.2 Z" fill="#8f8f8f"/>
<circle cx="11.6" cy="3.8" r="1.4" fill="#8f8f8f"/>
<circle cx="16.2" cy="14.4" r="4.3" fill="#e9e9e9"/>
<circle cx="16.2" cy="14.4" r="3.6" fill="#8f8f8f"/>
<path d="M16.2 12.1 V16.7 M13.9 14.4 H18.5" stroke="#fff" stroke-width="1.3"/>
</svg>
<div class="t" style="left:590.20px;top:450.85px;font-size:8.9px;line-height:12px;color:#444;font-weight:400;">职位名称</div>
<div class="t" style="left:591.60px;top:461.55px;font-size:4.8px;line-height:6px;color:#555;font-weight:400;">代用名</div>
<div class="r" style="left:560.00px;top:476.50px;width:22px;height:22px;border-radius:50%;background:#e6e6e6"></div>
<svg class="r" style="left:565.3px;top:482.84px" width="13" height="11.82" viewBox="0 0 22 20">
<rect x="0.6" y="0.6" width="17.3" height="15.6" rx="0.8" fill="#f2f2f2" stroke="#8f8f8f" stroke-width="1.1"/>
<path d="M2.6 14.2 L2.6 9 L5.8 6.2 L10.8 10.6 L15.6 7.2 L15.9 7.2 L15.9 14.2 Z" fill="#8f8f8f"/>
<circle cx="11.6" cy="3.8" r="1.4" fill="#8f8f8f"/>
<circle cx="16.2" cy="14.4" r="4.3" fill="#e9e9e9"/>
<circle cx="16.2" cy="14.4" r="3.6" fill="#8f8f8f"/>
<path d="M16.2 12.1 V16.7 M13.9 14.4 H18.5" stroke="#fff" stroke-width="1.3"/>
</svg>
<div class="t" style="left:590.20px;top:479.60px;font-size:8.9px;line-height:12px;color:#444;font-weight:400;">职位名称</div>
<div class="t" style="left:591.60px;top:490.30px;font-size:4.8px;line-height:6px;color:#555;font-weight:400;">代用名</div>
<div class="r" style="left:665.00px;top:447.75px;width:22px;height:22px;border-radius:50%;background:#e6e6e6"></div>
<svg class="r" style="left:670.3px;top:454.09px" width="13" height="11.82" viewBox="0 0 22 20">
<rect x="0.6" y="0.6" width="17.3" height="15.6" rx="0.8" fill="#f2f2f2" stroke="#8f8f8f" stroke-width="1.1"/>
<path d="M2.6 14.2 L2.6 9 L5.8 6.2 L10.8 10.6 L15.6 7.2 L15.9 7.2 L15.9 14.2 Z" fill="#8f8f8f"/>
<circle cx="11.6" cy="3.8" r="1.4" fill="#8f8f8f"/>
<circle cx="16.2" cy="14.4" r="4.3" fill="#e9e9e9"/>
<circle cx="16.2" cy="14.4" r="3.6" fill="#8f8f8f"/>
<path d="M16.2 12.1 V16.7 M13.9 14.4 H18.5" stroke="#fff" stroke-width="1.3"/>
</svg>
<div class="t" style="left:695.20px;top:450.85px;font-size:8.9px;line-height:12px;color:#444;font-weight:400;">职位名称</div>
<div class="t" style="left:696.60px;top:461.55px;font-size:4.8px;line-height:6px;color:#555;font-weight:400;">代用名</div>
<div class="r" style="left:665.00px;top:476.50px;width:22px;height:22px;border-radius:50%;background:#e6e6e6"></div>
<svg class="r" style="left:670.3px;top:482.84px" width="13" height="11.82" viewBox="0 0 22 20">
<rect x="0.6" y="0.6" width="17.3" height="15.6" rx="0.8" fill="#f2f2f2" stroke="#8f8f8f" stroke-width="1.1"/>
<path d="M2.6 14.2 L2.6 9 L5.8 6.2 L10.8 10.6 L15.6 7.2 L15.9 7.2 L15.9 14.2 Z" fill="#8f8f8f"/>
<circle cx="11.6" cy="3.8" r="1.4" fill="#8f8f8f"/>
<circle cx="16.2" cy="14.4" r="4.3" fill="#e9e9e9"/>
<circle cx="16.2" cy="14.4" r="3.6" fill="#8f8f8f"/>
<path d="M16.2 12.1 V16.7 M13.9 14.4 H18.5" stroke="#fff" stroke-width="1.3"/>
</svg>
<div class="t" style="left:695.20px;top:479.60px;font-size:8.9px;line-height:12px;color:#444;font-weight:400;">职位名称</div>
<div class="t" style="left:696.60px;top:490.30px;font-size:4.8px;line-height:6px;color:#555;font-weight:400;">代用名</div>
<div class="r" style="left:770.00px;top:447.75px;width:22px;height:22px;border-radius:50%;background:#e6e6e6"></div>
<svg class="r" style="left:775.3px;top:454.09px" width="13" height="11.82" viewBox="0 0 22 20">
<rect x="0.6" y="0.6" width="17.3" height="15.6" rx="0.8" fill="#f2f2f2" stroke="#8f8f8f" stroke-width="1.1"/>
<path d="M2.6 14.2 L2.6 9 L5.8 6.2 L10.8 10.6 L15.6 7.2 L15.9 7.2 L15.9 14.2 Z" fill="#8f8f8f"/>
<circle cx="11.6" cy="3.8" r="1.4" fill="#8f8f8f"/>
<circle cx="16.2" cy="14.4" r="4.3" fill="#e9e9e9"/>
<circle cx="16.2" cy="14.4" r="3.6" fill="#8f8f8f"/>
<path d="M16.2 12.1 V16.7 M13.9 14.4 H18.5" stroke="#fff" stroke-width="1.3"/>
</svg>
<div class="t" style="left:800.20px;top:450.85px;font-size:8.9px;line-height:12px;color:#444;font-weight:400;">职位名称</div>
<div class="t" style="left:801.60px;top:461.55px;font-size:4.8px;line-height:6px;color:#555;font-weight:400;">代用名</div>
<div class="r" style="left:21.3px;top:628.3px;width:211.2px;height:164.2px;background:#e9f0fc;"></div>
<div class="r" style="left:236.6px;top:628.3px;width:215.6px;height:164.2px;background:#f0f0f0;"></div>
<svg class="r" style="left:55px;top:635px" width="50" height="50" viewBox="0 0 96 96">
<path d="M15 84 C15 84 15.5 72 19 66 C21 62.5 27 59.5 34 56.5 L37 51 L59 51 L62 56.5 C69 59.5 74.5 62.5 77 66 C80 72 77.5 84 77.5 84 Z" fill="#2a74e0"/>
<path d="M33 57.5 L37.5 53 L46.5 59 L55.5 53 L60 57.5 L58 64.5 L52.5 62 L46.5 69.5 L40.5 62 L34.5 65.5 Z" fill="#e9f0fc"/>
<rect x="57.5" y="73" width="10" height="4" rx="1" fill="#a9c8f5"/>
<path d="M28.5 31 C28.5 19 36 13.5 46.5 13.5 C57 13.5 63.5 20 63.5 31 C63.5 35 63.5 39 61.5 43 L56 49 L37 49 L31 43 C28.8 39 28.5 35 28.5 31 Z" fill="#2a74e0"/>
<path d="M31 36 C31 31 35 28 40.5 26.8 C45 30.5 52 33.5 58.5 33.5 C60.5 37 60 42 57.5 46 C55 50.5 51 54.3 46 54.3 C41 54.3 37.5 51 35 47.5 C32.5 44 31 40 31 36 Z" fill="#e9f0fc"/>
</svg>
<svg class="r" style="left:262px;top:635px" width="50" height="50" viewBox="0 0 96 96">
<path d="M15.5 78 C16 74 17 68 19 64 C22 59.5 30 57 38.5 54 L44.5 68.5 L46.2 58 L44.8 56 L52 56 L50.6 58 L52.3 68.5 L58.5 54 C67 57 76 59.5 79 64 C81 68 82 74 82.5 78 C82.5 80 81 81 79 81 L19 81 C17 81 15.5 80 15.5 78 Z" fill="#595959"/>
<path d="M33 28 C33 16 40 10.5 48.5 10.5 C58 10.5 65 16.5 65 28 C65 38 58.5 52.5 48.5 52.5 C39 52.5 33 38 33 28 Z" fill="#595959"/>
<path d="M35.8 31 C36 28.5 38 27.3 40.5 26.5 C47 24.8 54.5 23 59.5 19.5 C61 23 62.3 27 62.3 31 C62.3 38.5 56.5 49.8 48.8 49.8 C41.5 49.8 35.8 38.5 35.8 31 Z" fill="#f0f0f0"/>
</svg>
<div class="t" style="left:112.30px;top:647.50px;font-size:15.9px;line-height:21px;color:#2f78e0;font-weight:300;">输入您的标题</div>
<div class="t" style="left:319.30px;top:647.50px;font-size:15.9px;line-height:21px;color:#4d4d4d;font-weight:300;">输入您的标题</div>
<div class="r" style="left:114.95px;top:679.3px;width:1.1px;height:78.0px;background:#3b7de0;"></div>
<div class="r" style="left:112.0px;top:675.8px;width:7px;height:7px;border-radius:50%;box-sizing:border-box;border:0.9px solid #3b7de0;background:#fff"></div>
<div class="r" style="left:112.0px;top:714.8px;width:7px;height:7px;border-radius:50%;box-sizing:border-box;border:0.9px solid #3b7de0;background:#fff"></div>
<div class="r" style="left:112.0px;top:753.8px;width:7px;height:7px;border-radius:50%;box-sizing:border-box;border:0.9px solid #3b7de0;background:#fff"></div>
<div class="r" style="left:322.45px;top:679.3px;width:1.1px;height:39.0px;background:#bdbdbd;"></div>
<div class="r" style="left:319.5px;top:675.8px;width:7px;height:7px;border-radius:50%;box-sizing:border-box;border:0.9px solid #bdbdbd;background:#fff"></div>
<div class="r" style="left:319.5px;top:714.8px;width:7px;height:7px;border-radius:50%;box-sizing:border-box;border:0.9px solid #bdbdbd;background:#fff"></div>
<div class="t" style="left:132.00px;top:678.50px;font-size:8.85px;line-height:12px;color:#2f78e0;font-weight:700;">输入您的标题</div>
<div class="t" style="left:132.00px;top:693.95px;font-size:5.95px;line-height:9.5px;color:#555;font-weight:400;">标题数字等都可以通过点<br>击和重新输入进行更改</div>
<div class="t" style="left:132.00px;top:718.00px;font-size:8.85px;line-height:12px;color:#2f78e0;font-weight:700;">输入您的标题</div>
<div class="t" style="left:132.00px;top:733.45px;font-size:5.95px;line-height:9.5px;color:#555;font-weight:400;">标题数字等都可以通过点<br>击和重新输入进行更改</div>
<div class="t" style="left:132.00px;top:755.30px;font-size:8.85px;line-height:12px;color:#2f78e0;font-weight:700;">输入您的标题</div>
<div class="t" style="left:132.00px;top:770.75px;font-size:5.95px;line-height:9.5px;color:#555;font-weight:400;">标题数字等都可以通过</div>
<div class="t" style="left:336.20px;top:678.50px;font-size:8.85px;line-height:12px;color:#333;font-weight:700;">输入您的标题</div>
<div class="t" style="left:336.20px;top:693.95px;font-size:5.95px;line-height:9.5px;color:#555;font-weight:400;">标题数字等都可以通过点<br>击和重新输入进行更改</div>
<div class="t" style="left:336.20px;top:718.00px;font-size:8.85px;line-height:12px;color:#333;font-weight:700;">输入您的标题</div>
<div class="t" style="left:336.20px;top:733.45px;font-size:5.95px;line-height:9.5px;color:#555;font-weight:400;">标题数字等都可以通过点<br>击和重新输入进行更改</div>
<div class="r" style="left:522px;top:704.2px;width:406px;height:0.8px;background:#e3e7f0;"></div>
<div class="r" style="left:535.2px;top:707.5px;width:0.6px;height:27.5px;background:#e6e8ee;"></div>
<div class="t" style="left:535.50px;top:738.50px;font-size:9.5px;line-height:12px;color:#2f78e0;font-weight:700;transform:translateX(-50%);text-align:center;">1991</div>
<div class="t" style="left:535.50px;top:750.50px;font-size:5.25px;line-height:7.6px;color:#606060;font-weight:400;transform:translateX(-50%);text-align:center;">标题数字等都<br>可以更改</div>
<div class="r" style="left:557.95px;top:664px;width:0.6px;height:37.5px;background:#e6e8ee;"></div>
<div class="t" style="left:555.50px;top:632.50px;font-size:9.5px;line-height:12px;color:#2f78e0;font-weight:700;transform:translateX(-50%);text-align:center;">1992</div>
<div class="t" style="left:555.50px;top:644.50px;font-size:5.25px;line-height:7.6px;color:#606060;font-weight:400;transform:translateX(-50%);text-align:center;">标题数字等都<br>可以更改</div>
<div class="r" style="left:580.45px;top:707.5px;width:0.6px;height:52.5px;background:#e6e8ee;"></div>
<div class="t" style="left:580.75px;top:763.50px;font-size:9.5px;line-height:12px;color:#2f78e0;font-weight:700;transform:translateX(-50%);text-align:center;">1993</div>
<div class="t" style="left:580.75px;top:775.50px;font-size:5.25px;line-height:7.6px;color:#606060;font-weight:400;transform:translateX(-50%);text-align:center;">标题数字等都<br>可以更改</div>
<div class="r" style="left:602.95px;top:681px;width:0.6px;height:20.5px;background:#e6e8ee;"></div>
<div class="t" style="left:606.25px;top:649.00px;font-size:9.5px;line-height:12px;color:#2f78e0;font-weight:700;transform:translateX(-50%);text-align:center;">1994</div>
<div class="t" style="left:606.25px;top:660.75px;font-size:5.25px;line-height:7.6px;color:#606060;font-weight:400;transform:translateX(-50%);text-align:center;">标题数字等都<br>可以更改</div>
<div class="r" style="left:625.45px;top:707.5px;width:0.6px;height:27.5px;background:#e6e8ee;"></div>
<div class="t" style="left:625.75px;top:738.50px;font-size:9.5px;line-height:12px;color:#2f78e0;font-weight:700;transform:translateX(-50%);text-align:center;">1995</div>
<div class="t" style="left:625.75px;top:750.50px;font-size:5.25px;line-height:7.6px;color:#606060;font-weight:400;transform:translateX(-50%);text-align:center;">标题数字等都<br>可以更改</div>
<div class="r" style="left:647.95px;top:664px;width:0.6px;height:37.5px;background:#e6e8ee;"></div>
<div class="t" style="left:648.25px;top:632.50px;font-size:9.5px;line-height:12px;color:#2f78e0;font-weight:700;transform:translateX(-50%);text-align:center;">1996</div>
<div class="t" style="left:648.25px;top:644.50px;font-size:5.25px;line-height:7.6px;color:#606060;font-weight:400;transform:translateX(-50%);text-align:center;">标题数字等都<br>可以更改</div>
<div class="r" style="left:670.45px;top:707.5px;width:0.6px;height:52.5px;background:#e6e8ee;"></div>
<div class="t" style="left:670.75px;top:763.50px;font-size:9.5px;line-height:12px;color:#2f78e0;font-weight:700;transform:translateX(-50%);text-align:center;">1997</div>
<div class="t" style="left:670.75px;top:775.50px;font-size:5.25px;line-height:7.6px;color:#606060;font-weight:400;transform:translateX(-50%);text-align:center;">标题数字等都<br>可以更改</div>
<div class="r" style="left:693.45px;top:681px;width:0.6px;height:20.5px;background:#e6e8ee;"></div>
<div class="t" style="left:693.75px;top:649.00px;font-size:9.5px;line-height:12px;color:#2f78e0;font-weight:700;transform:translateX(-50%);text-align:center;">1998</div>
<div class="t" style="left:693.75px;top:660.75px;font-size:5.25px;line-height:7.6px;color:#606060;font-weight:400;transform:translateX(-50%);text-align:center;">标题数字等都<br>可以更改</div>
<div class="r" style="left:715.45px;top:707.5px;width:0.6px;height:27.5px;background:#e6e8ee;"></div>
<div class="t" style="left:715.75px;top:738.50px;font-size:9.5px;line-height:12px;color:#2f78e0;font-weight:700;transform:translateX(-50%);text-align:center;">2009</div>
<div class="t" style="left:715.75px;top:750.50px;font-size:5.25px;line-height:7.6px;color:#606060;font-weight:400;transform:translateX(-50%);text-align:center;">标题数字等都<br>可以更改</div>
<div class="r" style="left:738.45px;top:664px;width:0.6px;height:37.5px;background:#e6e8ee;"></div>
<div class="t" style="left:735.00px;top:632.50px;font-size:9.5px;line-height:12px;color:#2f78e0;font-weight:700;transform:translateX(-50%);text-align:center;">2010</div>
<div class="t" style="left:735.00px;top:644.50px;font-size:5.25px;line-height:7.6px;color:#606060;font-weight:400;transform:translateX(-50%);text-align:center;">标题数字等都<br>可以更改</div>
<div class="r" style="left:760.45px;top:707.5px;width:0.6px;height:52.5px;background:#e6e8ee;"></div>
<div class="t" style="left:760.75px;top:763.50px;font-size:9.5px;line-height:12px;color:#2f78e0;font-weight:700;transform:translateX(-50%);text-align:center;">2012</div>
<div class="t" style="left:760.75px;top:775.50px;font-size:5.25px;line-height:7.6px;color:#606060;font-weight:400;transform:translateX(-50%);text-align:center;">标题数字等都<br>可以更改</div>
<div class="r" style="left:783.45px;top:681px;width:0.6px;height:20.5px;background:#e6e8ee;"></div>
<div class="t" style="left:783.75px;top:649.00px;font-size:9.5px;line-height:12px;color:#2f78e0;font-weight:700;transform:translateX(-50%);text-align:center;">2015</div>
<div class="t" style="left:783.75px;top:660.75px;font-size:5.25px;line-height:7.6px;color:#606060;font-weight:400;transform:translateX(-50%);text-align:center;">标题数字等都<br>可以更改</div>
<div class="r" style="left:805.45px;top:707.5px;width:0.6px;height:27.5px;background:#e6e8ee;"></div>
<div class="t" style="left:805.75px;top:738.50px;font-size:9.5px;line-height:12px;color:#2f78e0;font-weight:700;transform:translateX(-50%);text-align:center;">2019</div>
<div class="t" style="left:805.75px;top:750.50px;font-size:5.25px;line-height:7.6px;color:#606060;font-weight:400;transform:translateX(-50%);text-align:center;">标题数字等都<br>可以更改</div>
<div class="r" style="left:828.95px;top:664px;width:0.6px;height:37.5px;background:#e6e8ee;"></div>
<div class="t" style="left:825.50px;top:632.50px;font-size:9.5px;line-height:12px;color:#2f78e0;font-weight:700;transform:translateX(-50%);text-align:center;">2020</div>
<div class="t" style="left:825.50px;top:644.50px;font-size:5.25px;line-height:7.6px;color:#606060;font-weight:400;transform:translateX(-50%);text-align:center;">标题数字等都<br>可以更改</div>
<div class="r" style="left:850.95px;top:707.5px;width:0.6px;height:52.5px;background:#e6e8ee;"></div>
<div class="t" style="left:851.25px;top:763.50px;font-size:9.5px;line-height:12px;color:#2f78e0;font-weight:700;transform:translateX(-50%);text-align:center;">2022</div>
<div class="t" style="left:851.25px;top:775.50px;font-size:5.25px;line-height:7.6px;color:#606060;font-weight:400;transform:translateX(-50%);text-align:center;">标题数字等都<br>可以更改</div>
<div class="r" style="left:873.95px;top:681px;width:0.6px;height:20.5px;background:#e6e8ee;"></div>
<div class="t" style="left:874.25px;top:649.00px;font-size:9.5px;line-height:12px;color:#2f78e0;font-weight:700;transform:translateX(-50%);text-align:center;">2024</div>
<div class="t" style="left:874.25px;top:660.75px;font-size:5.25px;line-height:7.6px;color:#606060;font-weight:400;transform:translateX(-50%);text-align:center;">标题数字等都<br>可以更改</div>
<div class="r" style="left:895.95px;top:707.5px;width:0.6px;height:27.5px;background:#e6e8ee;"></div>
<div class="t" style="left:896.25px;top:738.50px;font-size:9.5px;line-height:12px;color:#2f78e0;font-weight:700;transform:translateX(-50%);text-align:center;">2025</div>
<div class="t" style="left:896.25px;top:750.50px;font-size:5.25px;line-height:7.6px;color:#606060;font-weight:400;transform:translateX(-50%);text-align:center;">标题数字等都<br>可以更改</div>
<div class="r" style="left:918.95px;top:664px;width:0.6px;height:37.5px;background:#e6e8ee;"></div>
<div class="t" style="left:915.75px;top:632.50px;font-size:9.5px;line-height:12px;color:#2f78e0;font-weight:700;transform:translateX(-50%);text-align:center;">2029</div>
<div class="t" style="left:915.75px;top:644.50px;font-size:5.25px;line-height:7.6px;color:#606060;font-weight:400;transform:translateX(-50%);text-align:center;">标题数字等都<br>可以更改</div>
<div class="r" style="left:532.40px;top:701.40px;width:6.2px;height:6.2px;border-radius:50%;box-sizing:border-box;border:0.9px solid #3b6fd8;background:#fff"></div>
<div class="r" style="left:555.15px;top:701.40px;width:6.2px;height:6.2px;border-radius:50%;box-sizing:border-box;border:0.9px solid #3b6fd8;background:#fff"></div>
<div class="r" style="left:577.65px;top:701.40px;width:6.2px;height:6.2px;border-radius:50%;box-sizing:border-box;border:0.9px solid #3b6fd8;background:#fff"></div>
<div class="r" style="left:600.15px;top:701.40px;width:6.2px;height:6.2px;border-radius:50%;box-sizing:border-box;border:0.9px solid #3b6fd8;background:#fff"></div>
<div class="r" style="left:622.65px;top:701.40px;width:6.2px;height:6.2px;border-radius:50%;box-sizing:border-box;border:0.9px solid #3b6fd8;background:#fff"></div>
<div class="r" style="left:645.15px;top:701.40px;width:6.2px;height:6.2px;border-radius:50%;box-sizing:border-box;border:0.9px solid #3b6fd8;background:#fff"></div>
<div class="r" style="left:667.65px;top:701.40px;width:6.2px;height:6.2px;border-radius:50%;box-sizing:border-box;border:0.9px solid #3b6fd8;background:#fff"></div>
<div class="r" style="left:690.65px;top:701.40px;width:6.2px;height:6.2px;border-radius:50%;box-sizing:border-box;border:0.9px solid #3b6fd8;background:#fff"></div>
<div class="r" style="left:712.65px;top:701.40px;width:6.2px;height:6.2px;border-radius:50%;box-sizing:border-box;border:0.9px solid #3b6fd8;background:#fff"></div>
<div class="r" style="left:735.65px;top:701.40px;width:6.2px;height:6.2px;border-radius:50%;box-sizing:border-box;border:0.9px solid #3b6fd8;background:#fff"></div>
<div class="r" style="left:757.65px;top:701.40px;width:6.2px;height:6.2px;border-radius:50%;box-sizing:border-box;border:0.9px solid #3b6fd8;background:#fff"></div>
<div class="r" style="left:780.65px;top:701.40px;width:6.2px;height:6.2px;border-radius:50%;box-sizing:border-box;border:0.9px solid #3b6fd8;background:#fff"></div>
<div class="r" style="left:802.65px;top:701.40px;width:6.2px;height:6.2px;border-radius:50%;box-sizing:border-box;border:0.9px solid #3b6fd8;background:#fff"></div>
<div class="r" style="left:826.15px;top:701.40px;width:6.2px;height:6.2px;border-radius:50%;box-sizing:border-box;border:0.9px solid #3b6fd8;background:#fff"></div>
<div class="r" style="left:848.15px;top:701.40px;width:6.2px;height:6.2px;border-radius:50%;box-sizing:border-box;border:0.9px solid #3b6fd8;background:#fff"></div>
<div class="r" style="left:871.15px;top:701.40px;width:6.2px;height:6.2px;border-radius:50%;box-sizing:border-box;border:0.9px solid #3b6fd8;background:#fff"></div>
<div class="r" style="left:893.15px;top:701.40px;width:6.2px;height:6.2px;border-radius:50%;box-sizing:border-box;border:0.9px solid #3b6fd8;background:#fff"></div>
<div class="r" style="left:916.15px;top:701.40px;width:6.2px;height:6.2px;border-radius:50%;box-sizing:border-box;border:0.9px solid #3b6fd8;background:#fff"></div>
<svg class="r" style="left:0;top:0" width="960" height="1400"><path d="M47.00 981.8 L98.90 981.8 Q103.50 989.90 98.90 998 L47.00 998 Z" fill="#2a74e0"/><path d="M101.70 981.8 L152.35 981.8 Q156.95 989.90 152.35 998 L101.70 998 Q106.30 989.90 101.70 981.8 Z" fill="#2a74e0"/><path d="M155.15 981.8 L205.80 981.8 Q210.40 989.90 205.80 998 L155.15 998 Q159.75 989.90 155.15 981.8 Z" fill="#2a74e0"/><path d="M208.60 981.8 L259.25 981.8 Q263.85 989.90 259.25 998 L208.60 998 Q213.20 989.90 208.60 981.8 Z" fill="#2a74e0"/><path d="M262.05 981.8 L312.70 981.8 Q317.30 989.90 312.70 998 L262.05 998 Q266.65 989.90 262.05 981.8 Z" fill="#2a74e0"/><path d="M315.50 981.8 L366.15 981.8 Q370.75 989.90 366.15 998 L315.50 998 Q320.10 989.90 315.50 981.8 Z" fill="#2a74e0"/><path d="M368.95 981.8 L419.60 981.8 Q424.20 989.90 419.60 998 L368.95 998 Q373.55 989.90 368.95 981.8 Z" fill="#2a74e0"/></svg>
<div class="t" style="left:71.60px;top:984.80px;font-size:11.4px;line-height:14px;color:#fff;font-weight:700;transform:translateX(-50%);text-align:center;">2018</div>
<div class="t" style="left:127.60px;top:984.80px;font-size:11.4px;line-height:14px;color:#fff;font-weight:700;transform:translateX(-50%);text-align:center;">2019</div>
<div class="t" style="left:180.60px;top:984.80px;font-size:11.4px;line-height:14px;color:#fff;font-weight:700;transform:translateX(-50%);text-align:center;">2020</div>
<div class="t" style="left:234.60px;top:984.80px;font-size:11.4px;line-height:14px;color:#fff;font-weight:700;transform:translateX(-50%);text-align:center;">2021</div>
<div class="t" style="left:288.20px;top:984.80px;font-size:11.4px;line-height:14px;color:#fff;font-weight:700;transform:translateX(-50%);text-align:center;">2022</div>
<div class="t" style="left:341.70px;top:984.80px;font-size:11.4px;line-height:14px;color:#fff;font-weight:700;transform:translateX(-50%);text-align:center;">2023</div>
<div class="t" style="left:395.20px;top:984.80px;font-size:11.4px;line-height:14px;color:#fff;font-weight:700;transform:translateX(-50%);text-align:center;">2024</div>
<div class="t" style="left:46.30px;top:905.50px;font-size:9.85px;line-height:13px;color:#2f78e0;font-weight:700;">点击此处添加标题</div>
<div class="t" style="left:46.30px;top:923.15px;font-size:7.15px;line-height:10.1px;color:#666;font-weight:400;">标题数字等都可以通过点<br>击和重新输入进行更改</div>
<div class="t" style="left:149.50px;top:905.50px;font-size:9.85px;line-height:13px;color:#2f78e0;font-weight:700;">点击此处添加标题</div>
<div class="t" style="left:149.50px;top:923.15px;font-size:7.15px;line-height:10.1px;color:#666;font-weight:400;">标题数字等都可以通过点<br>击和重新输入进行更改</div>
<div class="t" style="left:252.70px;top:905.50px;font-size:9.85px;line-height:13px;color:#2f78e0;font-weight:700;">点击此处添加标题</div>
<div class="t" style="left:252.70px;top:923.15px;font-size:7.15px;line-height:10.1px;color:#666;font-weight:400;">标题数字等都可以通过点<br>击和重新输入进行更改</div>
<div class="t" style="left:361.00px;top:905.50px;font-size:9.85px;line-height:13px;color:#2f78e0;font-weight:700;">点击此处添加标题</div>
<div class="t" style="left:361.00px;top:923.15px;font-size:7.15px;line-height:10.1px;color:#666;font-weight:400;">标题数字等都可以通过点<br>击和重新输入进行更改</div>
<div class="t" style="left:86.30px;top:1038.00px;font-size:9.85px;line-height:13px;color:#2f78e0;font-weight:700;">点击此处添加标题</div>
<div class="t" style="left:86.30px;top:1055.65px;font-size:7.15px;line-height:10.1px;color:#666;font-weight:400;">标题数字等都可以通过点<br>击和重新输入进行更改</div>
<div class="t" style="left:193.00px;top:1038.00px;font-size:9.85px;line-height:13px;color:#2f78e0;font-weight:700;">点击此处添加标题</div>
<div class="t" style="left:193.00px;top:1055.65px;font-size:7.15px;line-height:10.1px;color:#666;font-weight:400;">标题数字等都可以通过点<br>击和重新输入进行更改</div>
<div class="t" style="left:300.20px;top:1038.00px;font-size:9.85px;line-height:13px;color:#2f78e0;font-weight:700;">点击此处添加标题</div>
<div class="t" style="left:300.20px;top:1055.65px;font-size:7.15px;line-height:10.1px;color:#666;font-weight:400;">标题数字等都可以通过点<br>击和重新输入进行更改</div>
<div class="r" style="left:180.9px;top:951.3px;width:0.7px;height:23.8px;background:#b5b5b5;"></div>
<div class="r" style="left:287.84999999999997px;top:951.3px;width:0.7px;height:23.8px;background:#9a9a9a;"></div>
<div class="r" style="left:394.95px;top:951.3px;width:0.7px;height:23.8px;background:#e0e0e0;"></div>
<div class="r" style="left:127.15px;top:1005px;width:0.7px;height:24.5px;background:#333;"></div>
<div class="r" style="left:234.15px;top:1005px;width:0.7px;height:24.5px;background:#777;"></div>
<div class="r" style="left:341.25px;top:1005px;width:0.7px;height:24.5px;background:#c8c8c8;"></div>
<svg class="r" style="left:0;top:0" width="960" height="1400"><circle cx="625.75" cy="997.3" r="67" fill="#f0f0f0"/><circle cx="625.75" cy="915.30" r="25" fill="#fff"/><path d="M651.64 920.81 A80.75 80.75 0 0 1 690.49 949.04" fill="none" stroke="#2a74e0" stroke-width="6.5"/><circle cx="703.74" cy="971.96" r="25" fill="#fff"/><path d="M706.49 998.29 A80.75 80.75 0 0 1 691.65 1043.96" fill="none" stroke="#2a74e0" stroke-width="6.5"/><circle cx="673.95" cy="1063.64" r="25" fill="#fff"/><path d="M649.76 1074.40 A80.75 80.75 0 0 1 601.74 1074.40" fill="none" stroke="#2a74e0" stroke-width="6.5"/><circle cx="577.55" cy="1063.64" r="25" fill="#fff"/><path d="M559.85 1043.96 A80.75 80.75 0 0 1 545.01 998.29" fill="none" stroke="#2a74e0" stroke-width="6.5"/><circle cx="547.76" cy="971.96" r="25" fill="#fff"/><path d="M561.01 949.04 A80.75 80.75 0 0 1 599.86 920.81" fill="none" stroke="#2a74e0" stroke-width="6.5"/></svg>
<div class="t" style="left:625.75px;top:903.25px;font-size:8.8px;line-height:12.1px;color:#2f78e0;font-weight:700;transform:translateX(-50%);text-align:center;">输入你的<br>名称</div>
<div class="t" style="left:703.74px;top:959.91px;font-size:8.8px;line-height:12.1px;color:#2f78e0;font-weight:700;transform:translateX(-50%);text-align:center;">输入你的<br>名称</div>
<div class="t" style="left:673.95px;top:1051.59px;font-size:8.8px;line-height:12.1px;color:#2f78e0;font-weight:700;transform:translateX(-50%);text-align:center;">输入你的<br>名称</div>
<div class="t" style="left:577.55px;top:1051.59px;font-size:8.8px;line-height:12.1px;color:#2f78e0;font-weight:700;transform:translateX(-50%);text-align:center;">输入你的<br>名称</div>
<div class="t" style="left:547.76px;top:959.91px;font-size:8.8px;line-height:12.1px;color:#2f78e0;font-weight:700;transform:translateX(-50%);text-align:center;">输入你的<br>名称</div>
<div class="t" style="left:625.45px;top:977.50px;font-size:13.8px;line-height:21px;color:#333;font-weight:300;transform:translateX(-50%);text-align:center;">此处输入<br>你的标题</div>
<div class="t" style="left:762.50px;top:912.70px;font-size:11.8px;line-height:15px;color:#2f78e0;font-weight:700;">点击此处添加标题</div>
<div class="t" style="left:762.30px;top:930.80px;font-size:6.85px;line-height:12.4px;color:#444;font-weight:400;">标题数字等都可以通过点击和重新输入进行更改，<br>顶部<i class="q ql">“</i>开始<i class="q qr">”</i>面板中可以对字体、字号、颜色、行<br>距等进行修改</div>
<div class="r" style="left:764px;top:983.0px;width:155px;height:0.7px;background:#f0f0f0;"></div>
<div class="r" style="left:764px;top:1032.2px;width:155px;height:0.7px;background:#f0f0f0;"></div>
<div class="r" style="left:764px;top:1079.9px;width:155px;height:0.7px;background:#f0f0f0;"></div>
<div class="t" style="left:803.70px;top:991.70px;font-size:7.9px;line-height:11px;color:#444;font-weight:400;">点击此处添加标题</div>
<div class="t" style="left:803.70px;top:1004.28px;font-size:5.43px;line-height:9.85px;color:#555;font-weight:400;">标题数字等都可以通过点击和重新输入进<br>行更改，顶部<i class="q ql">“</i>开始<i class="q qr">”</i>面板中可以修改</div>
<div class="t" style="left:803.70px;top:1040.30px;font-size:7.9px;line-height:11px;color:#444;font-weight:400;">点击此处添加标题</div>
<div class="t" style="left:803.70px;top:1052.88px;font-size:5.43px;line-height:9.85px;color:#555;font-weight:400;">标题数字等都可以通过点击和重新输入进<br>行更改，顶部<i class="q ql">“</i>开始<i class="q qr">”</i>面板中可以修改</div>
<svg class="r" style="left:0;top:0" width="960" height="1400"><polygon points="757.07,1000.42 758.35,999.14 762.21,997.21 766.07,994.64 767.67,996.89 769.28,998.82 772.49,1001.07 775.71,1001.39 778.28,1000.10 780.85,997.21 780.21,995.60 781.81,993.03 784.06,992.07 785.99,994.00 788.56,995.60 789.85,995.28 788.88,997.53 786.95,999.78 785.03,1001.71 782.78,1002.35 783.42,1004.28 785.03,1005.57 783.10,1007.17 784.70,1009.74 785.03,1012.63 785.35,1015.85 784.38,1016.49 783.74,1014.24 782.13,1015.53 780.21,1016.49 778.28,1017.13 777.63,1019.70 776.35,1020.03 776.03,1017.78 773.78,1017.13 771.53,1017.46 770.24,1015.85 769.92,1013.28 768.32,1011.99 766.07,1012.63 763.82,1011.03 761.57,1010.39 759.64,1007.49 758.03,1004.92 758.68,1002.67" fill="#2a74e0" stroke="#2a74e0" stroke-width="0.6" stroke-linejoin="round"/><circle cx="771.21" cy="1007.81" r="0.55" fill="#dbe8fb"/><circle cx="775.39" cy="1011.03" r="0.55" fill="#dbe8fb"/><circle cx="777.63" cy="1004.92" r="0.55" fill="#dbe8fb"/><circle cx="780.21" cy="1007.81" r="0.55" fill="#dbe8fb"/><circle cx="782.13" cy="1010.71" r="0.55" fill="#dbe8fb"/><circle cx="778.60" cy="1013.28" r="0.55" fill="#dbe8fb"/><circle cx="781.81" cy="1001.71" r="0.55" fill="#dbe8fb"/><circle cx="782.46" cy="1013.28" r="0.55" fill="#dbe8fb"/><circle cx="776.35" cy="1008.14" r="0.55" fill="#dbe8fb"/></svg>
<svg class="r" style="left:761.4px;top:1042.5px" width="28" height="28" viewBox="-14 -14 28 28">
<circle r="13.2" fill="#2a74e0"/>
<path d="M-12.8 -1.5 C-11 -8 -7 -12 -2 -13.5 L-8 -14 L-14 -8 Z" fill="#fff"/>
<path d="M-11.8 -1.2 C-9 -1.5 -6.5 1 -4.8 0.8 L-6.8 -0.5 C-6 -3 -3.5 -6 -1 -7.5 L-3.8 -7.3 L-2.6 -9 C-1 -9.2 0.5 -10 1.5 -9.6 L0.5 -11.5 L-4.5 -10.5 C-8 -8.5 -11 -5 -11.8 -1.2 Z" fill="#fff"/>
<path d="M-5 3.4 C-3 2.4 0 2.8 1.8 4.2 C3.5 5.2 4.6 5.6 4.2 6.8 C3.6 8.8 1.6 10.2 0.4 12.6 L-0.8 13 C-1.8 10.5 -2.6 8.5 -3.4 7.5 C-4.4 6.3 -5.6 5 -5 3.4 Z" fill="#fff"/>
<path d="M5.6 -2.8 C6.6 -5 6.2 -6.2 7.4 -7.6 L10.4 -6.6 L15.5 -4.2 L9.5 -4.8 C8.6 -3.8 7 -2.4 5.6 -2.8 Z" fill="#fff"/>
<path d="M8 -12.5 L13 -12 L13 -6 Z" fill="#fff"/>
</svg>
<svg class="r" style="left:0;top:0" width="960" height="1400"><defs><clipPath id="cS"><rect x="37" y="1186.3" width="197.9" height="82.40000000000009"/></clipPath><clipPath id="cW"><rect x="240.1" y="1186.3" width="198.70000000000002" height="82.40000000000009"/></clipPath><clipPath id="cO"><rect x="37" y="1273.8" width="197.9" height="83.20000000000005"/></clipPath><clipPath id="cT"><rect x="240.1" y="1273.8" width="198.70000000000002" height="83.20000000000005"/></clipPath></defs><rect x="37" y="1186.3" width="197.9" height="82.40000000000009" fill="#2776e2"/><rect x="240.1" y="1186.3" width="198.70000000000002" height="82.40000000000009" fill="#5090e8"/><rect x="37" y="1273.8" width="197.9" height="83.20000000000005" fill="#a6a6a6"/><rect x="240.1" y="1273.8" width="198.70000000000002" height="83.20000000000005" fill="#7daaee"/><g clip-path="url(#cS)"><text x="26" y="1258.3" style="font-family:&quot;Liberation Sans&quot;,sans-serif;font-weight:700;font-size:88px" fill="#fff" stroke="#fff" stroke-width="3.2" stroke-linejoin="round" opacity="0.14">S</text></g><g clip-path="url(#cW)"><text x="369.5" y="1258.5" style="font-family:&quot;Liberation Sans&quot;,sans-serif;font-weight:700;font-size:88px" fill="#fff" stroke="#fff" stroke-width="3.2" stroke-linejoin="round" opacity="0.15">W</text></g><g clip-path="url(#cO)"><text x="17.5" y="1345.4" style="font-family:&quot;Liberation Sans&quot;,sans-serif;font-weight:700;font-size:88px" fill="#fff" stroke="#fff" stroke-width="3.2" stroke-linejoin="round" opacity="0.2">O</text></g><g clip-path="url(#cT)"><text x="381.5" y="1347" style="font-family:&quot;Liberation Sans&quot;,sans-serif;font-weight:700;font-size:88px" fill="#fff" stroke="#fff" stroke-width="3.2" stroke-linejoin="round" opacity="0.2">T</text></g><clipPath id="k241"><rect x="234.9" y="1200" width="40" height="60"/></clipPath><circle cx="241.2" cy="1227.5" r="13.3" fill="#fff" clip-path="url(#k241)"/><circle cx="241.2" cy="1227.5" r="8.4" fill="#2776e2"/><rect x="234.4" y="1222.3" width="6" height="10.4" fill="#2776e2"/><clipPath id="k339"><rect x="310" y="1268.7" width="60" height="40"/></clipPath><circle cx="339.25" cy="1274.2" r="13.3" fill="#fff" clip-path="url(#k339)"/><circle cx="339.25" cy="1274.2" r="8.4" fill="#5090e8"/><rect x="334.05" y="1268.2" width="10.4" height="6" fill="#5090e8"/><clipPath id="k135"><rect x="110" y="1233.8" width="60" height="40"/></clipPath><circle cx="135.75" cy="1268.9" r="13.3" fill="#fff" clip-path="url(#k135)"/><circle cx="135.75" cy="1268.9" r="8.4" fill="#a6a6a6"/><rect x="130.55" y="1268.3" width="10.4" height="6" fill="#a6a6a6"/><clipPath id="k234"><rect x="200.1" y="1290" width="40" height="60"/></clipPath><circle cx="234.1" cy="1315.5" r="13.3" fill="#fff" clip-path="url(#k234)"/><circle cx="234.1" cy="1315.5" r="8.4" fill="#7daaee"/><rect x="234.6" y="1310.3" width="6" height="10.4" fill="#7daaee"/></svg>
<div class="t" style="left:90.45px;top:1202.80px;font-size:13.7px;line-height:17px;color:#fff;font-weight:700;">优势</div>
<div class="t" style="left:90.75px;top:1223.95px;font-size:5.9px;line-height:8.5px;color:#fff;font-weight:400;">标题数字等都可以通过点击和重新输入进<br>行更改，顶部<i class="q ql">“</i>开始<i class="q qr">”</i>面板中可以对字<br>体、字号、颜色、行距等进行修改。</div>
<div class="t" style="left:273.45px;top:1202.80px;font-size:13.7px;line-height:17px;color:#fff;font-weight:700;">弱势</div>
<div class="t" style="left:273.75px;top:1223.95px;font-size:5.9px;line-height:8.5px;color:#fff;font-weight:400;">标题数字等都可以通过点击和重新输入进<br>行更改，顶部<i class="q ql">“</i>开始<i class="q qr">”</i>面板中可以对字<br>体、字号、颜色、行距等进行修改。</div>
<div class="t" style="left:90.45px;top:1296.50px;font-size:13.7px;line-height:17px;color:#fff;font-weight:700;">机会</div>
<div class="t" style="left:90.75px;top:1317.65px;font-size:5.9px;line-height:8.5px;color:#fff;font-weight:400;">标题数字等都可以通过点击和重新输入进<br>行更改，顶部<i class="q ql">“</i>开始<i class="q qr">”</i>面板中可以对字<br>体、字号、颜色、行距等进行修改。</div>
<div class="t" style="left:273.45px;top:1296.50px;font-size:13.7px;line-height:17px;color:#fff;font-weight:700;">威胁</div>
<div class="t" style="left:273.75px;top:1317.65px;font-size:5.9px;line-height:8.5px;color:#fff;font-weight:400;">标题数字等都可以通过点击和重新输入进<br>行更改，顶部<i class="q ql">“</i>开始<i class="q qr">”</i>面板中可以对字<br>体、字号、颜色、行距等进行修改。</div>
<svg class="r" style="left:0;top:0" width="960" height="1400"><rect x="506.5" y="1179.2" width="196" height="169.5" rx="7" fill="#f0f0f0"/><rect x="739.2" y="1179.2" width="197" height="169.5" rx="7" fill="#f0f0f0"/><circle cx="721.7" cy="1265.8" r="74.3" fill="#fff"/><circle cx="721.7" cy="1265.8" r="40" fill="#fff" stroke="#efefef" stroke-width="0.7"/><path d="M733.28 1200.11 A66.7 66.7 0 0 1 721.12 1332.50 L721.30 1311.70 A45.9 45.9 0 0 0 729.67 1220.60 Z" fill="#d6d6d6"/><path d="M713.57 1332.00 A66.7 66.7 0 0 1 721.12 1199.10 L721.30 1219.90 A45.9 45.9 0 0 0 716.11 1311.36 Z" fill="#2a74e0"/><polygon points="720.6,1193.3 739.2,1208.6 720.6,1224.6" fill="#2a74e0"/><polygon points="722.1,1306.5 704,1323.1 722.1,1338.3" fill="#d6d6d6"/>
<g font-family="&quot;Liberation Sans&quot;,&quot;Noto Sans CJK SC&quot;,sans-serif" font-size="8.6" text-anchor="middle" fill="#fff">
<text transform="translate(676.33 1292.80) rotate(239.24)">点</text>
<text transform="translate(672.73 1285.55) rotate(248.03)">击</text>
<text transform="translate(670.29 1277.84) rotate(256.82)">此</text>
<text transform="translate(669.06 1269.85) rotate(265.61)">处</text>
<text transform="translate(669.06 1261.75) rotate(274.39)">添</text>
<text transform="translate(670.29 1253.76) rotate(283.18)">加</text>
<text transform="translate(672.73 1246.05) rotate(291.97)">标</text>
<text transform="translate(676.33 1238.80) rotate(300.76)">题</text>
</g>
<g font-family="&quot;Liberation Sans&quot;,&quot;Noto Sans CJK SC&quot;,sans-serif" font-size="8.6" text-anchor="middle" fill="#555">
<text transform="translate(767.07 1238.80) rotate(59.24)">点</text>
<text transform="translate(770.67 1246.05) rotate(68.03)">击</text>
<text transform="translate(773.11 1253.76) rotate(76.82)">此</text>
<text transform="translate(774.34 1261.75) rotate(85.61)">处</text>
<text transform="translate(774.34 1269.85) rotate(94.39)">添</text>
<text transform="translate(773.11 1277.84) rotate(103.18)">加</text>
<text transform="translate(770.67 1285.55) rotate(111.97)">标</text>
<text transform="translate(767.07 1292.80) rotate(120.76)">题</text>
</g>
</svg>
<div class="t" style="left:722.00px;top:1252.50px;font-size:11.7px;line-height:13.8px;color:#3a3a3a;font-weight:400;transform:translateX(-50%);text-align:center;">点击此处<br>添加标题</div>
<div class="t" style="left:534.40px;top:1193.30px;font-size:9.85px;line-height:13px;color:#2f78e0;font-weight:700;">此处添加标题</div>
<div class="t" style="left:534.20px;top:1208.60px;font-size:6.93px;line-height:12.2px;color:#444;font-weight:400;">标题数字等都可以通过点击和重<br>新输入进行更改</div>
<div class="t" style="left:905.40px;top:1193.30px;font-size:9.85px;line-height:13px;color:#2f78e0;font-weight:700;transform:translateX(-100%);text-align:right;">此处添加标题</div>
<div class="t" style="left:905.40px;top:1208.60px;font-size:6.93px;line-height:12.2px;color:#444;font-weight:400;transform:translateX(-100%);text-align:right;">标题数字等都可以通过点击和重<br>新输入进行更改</div>
<div class="t" style="left:534.40px;top:1246.80px;font-size:9.85px;line-height:13px;color:#2f78e0;font-weight:700;">此处添加标题</div>
<div class="t" style="left:534.20px;top:1262.10px;font-size:6.93px;line-height:12.2px;color:#444;font-weight:400;">标题数字等都可以通过点击和重<br>新输入进行更改</div>
<div class="t" style="left:905.40px;top:1246.80px;font-size:9.85px;line-height:13px;color:#2f78e0;font-weight:700;transform:translateX(-100%);text-align:right;">此处添加标题</div>
<div class="t" style="left:905.40px;top:1262.10px;font-size:6.93px;line-height:12.2px;color:#444;font-weight:400;transform:translateX(-100%);text-align:right;">标题数字等都可以通过点击和重<br>新输入进行更改</div>
<div class="t" style="left:534.40px;top:1300.30px;font-size:9.85px;line-height:13px;color:#2f78e0;font-weight:700;">此处添加标题</div>
<div class="t" style="left:534.20px;top:1315.60px;font-size:6.93px;line-height:12.2px;color:#444;font-weight:400;">标题数字等都可以通过点击和重<br>新输入进行更改</div>
<div class="t" style="left:905.40px;top:1300.30px;font-size:9.85px;line-height:13px;color:#2f78e0;font-weight:700;transform:translateX(-100%);text-align:right;">此处添加标题</div>
<div class="t" style="left:905.40px;top:1315.60px;font-size:6.93px;line-height:12.2px;color:#444;font-weight:400;transform:translateX(-100%);text-align:right;">标题数字等都可以通过点击和重<br>新输入进行更改</div>
</body></html>
